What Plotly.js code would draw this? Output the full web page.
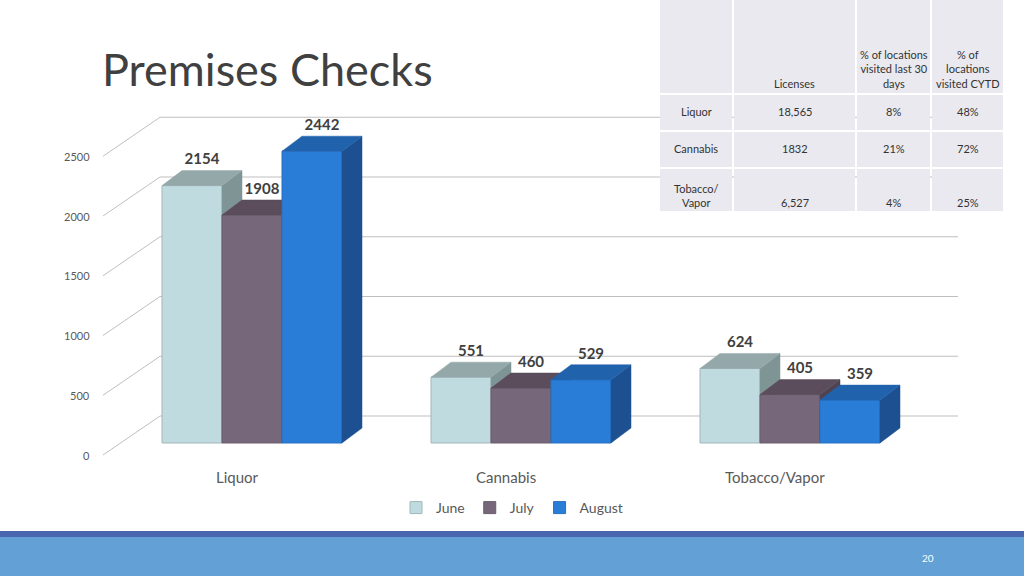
<!DOCTYPE html>
<html>
<head>
<meta charset="utf-8">
<script src="https://cdn.plot.ly/plotly-3.0.1.min.js"></script>
<style>
  body { margin: 0; background: #fff; }
  #chart { width: 1024px; height: 576px; }
</style>
</head>
<body>
<div id="chart"></div>
<script>
// chart data
const categories = ['Liquor', 'Cannabis', 'Tobacco/Vapor'];
const months = ['June', 'July', 'August'];
const june = [2154, 551, 624];
const july = [1908, 460, 405];
const august = [2442, 529, 359];
const yTicks = [0, 500, 1000, 1500, 2000, 2500];

// table data
const tableHeader = ['', 'Licenses', '% of locations<br>visited last 30<br>days', '% of<br>locations<br>visited CYTD'];
const tableRows = ['Liquor', 'Cannabis', 'Tobacco/<br>Vapor'];
const licenses = ['18,565', '1832', '6,527'];
const visited30 = ['8%', '21%', '4%'];
const visitedCYTD = ['48%', '72%', '25%'];

const FONT = 'Lato, "Liberation Sans", sans-serif';
const W = 1024, H = 576;

// pixel geometry of the 3d frame
const CX0 = 252, CSTEP = 269;   // x pixel of first category centre, spacing
const Y0 = 443, KY = 0.1195;    // floor pixel row, pixels per unit
const xv = px => (px - CX0) / CSTEP;
const yv = py => (Y0 - py) / KY;
const px2paperX = px => px / W;
const py2paperY = py => 1 - py / H;

const barW = 60 / CSTEP;
const depthX = 20 / CSTEP;
const depthY = 15 / KY;
const backY = 27 / KY;     // back wall raised above bar front
const frontY = 12 / KY;    // tick diagonals start below bar front

const series = [june, july, august];
const colors = [
  {front: '#bfdbdf', top: '#94a8aa', side: '#7f9595', edge: '#a3b7ba'},
  {front: '#76687a', top: '#5b4d5b', side: '#4f4251', edge: '#6a5d6e'},
  {front: '#2a7dd6', top: '#2162ad', side: '#1d5090', edge: '#2570c2'}
];

const xs = categories.map((c, i) => i);
const yRange = [yv(470), yv(100)];
let traces = [];
let layout = {
  width: W, height: H,
  margin: {l: 0, r: 0, t: 0, b: 0},
  paper_bgcolor: '#ffffff',
  plot_bgcolor: 'rgba(0,0,0,0)',
  font: {family: FONT, color: '#595959'},
  barmode: 'overlay',
  showlegend: true,
  legend: {
    orientation: 'h', x: 0.5, xanchor: 'center',
    y: py2paperY(508), yanchor: 'middle',
    font: {size: 14, color: '#595959', family: FONT},
    itemwidth: 30, tracegroupgap: 0
  },
  xaxis: {
    domain: [px2paperX(60), px2paperX(1000)],
    range: [xv(60), xv(1000)],
    showgrid: false, zeroline: false, showticklabels: false, ticks: ''
  },
  yaxis: {
    domain: [py2paperY(470), py2paperY(100)],
    range: yRange,
    showgrid: false, zeroline: false, showticklabels: false, ticks: ''
  },
  shapes: [],
  annotations: []
};

series.forEach((vals, s) => {
  const off = -1.5 * barW + s * barW;
  const barAxis = 'y' + (s === 0 ? '' : (2 * s + 1));
  const faceAxis = 'y' + (2 * s + 2);

  traces.push({
    type: 'bar', name: months[s],
    x: xs, y: vals,
    width: barW, offset: off,
    marker: {color: colors[s].front, line: {color: colors[s].edge, width: 1}},
    yaxis: barAxis, hoverinfo: 'skip'
  });

  let tx = [], ty = [], sx = [], sy = [];
  vals.forEach((v, i) => {
    const x0 = i + off, x1 = x0 + barW;
    tx.push(x0, x1, x1 + depthX, x0 + depthX, x0, null);
    ty.push(v, v, v + depthY, v + depthY, v, null);
    sx.push(x1, x1 + depthX, x1 + depthX, x1, x1, null);
    sy.push(0, depthY, v + depthY, v, 0, null);
  });
  traces.push({
    type: 'scatter', mode: 'lines', x: sx, y: sy, fill: 'toself',
    fillcolor: colors[s].side, line: {color: colors[s].side, width: 0.5},
    yaxis: faceAxis, showlegend: false, hoverinfo: 'skip'
  });
  traces.push({
    type: 'scatter', mode: 'lines', x: tx, y: ty, fill: 'toself',
    fillcolor: colors[s].top, line: {color: colors[s].top, width: 0.5},
    yaxis: faceAxis, showlegend: false, hoverinfo: 'skip'
  });
});

// value labels on top of everything
let lx = [], ly = [], lt = [];
series.forEach((vals, s) => {
  const off = -1.5 * barW + s * barW;
  vals.forEach((v, i) => {
    lx.push(i + off + barW / 2 + depthX / 2);
    ly.push(v + depthY + 10 / KY);
    lt.push('<b>' + v + '</b>');
  });
});
traces.push({
  type: 'scatter', mode: 'text', x: lx, y: ly, text: lt,
  textposition: 'middle center',
  textfont: {size: 15, color: '#404040', family: FONT},
  yaxis: 'y7', showlegend: false, hoverinfo: 'skip'
});

for (let a = 2; a <= 7; a++) {
  layout['yaxis' + a] = {
    overlaying: 'y', range: yRange, visible: false,
    showgrid: false, zeroline: false
  };
}

// back wall gridlines, diagonals and tick labels
yTicks.forEach(t => {
  layout.shapes.push({
    type: 'line', xref: 'x', yref: 'y', layer: 'below',
    x0: xv(160), x1: xv(958), y0: t + backY, y1: t + backY,
    line: {color: '#bfbfbf', width: 1}
  });
  layout.shapes.push({
    type: 'line', xref: 'x', yref: 'y', layer: 'below',
    x0: xv(103), x1: xv(160), y0: t - frontY, y1: t + backY,
    line: {color: '#bfbfbf', width: 1}
  });
  layout.annotations.push({
    xref: 'paper', yref: 'y', x: px2paperX(92), xanchor: 'right',
    y: t - frontY, yanchor: 'middle', text: String(t), showarrow: false,
    font: {size: 11, color: '#595959', family: FONT}
  });
});

// category labels sit on the front edge of the floor
categories.forEach((c, i) => {
  layout.annotations.push({
    xref: 'x', yref: 'paper', x: i - 15 / CSTEP, xanchor: 'center',
    y: py2paperY(477), yanchor: 'middle', text: c, showarrow: false,
    font: {size: 15, color: '#595959', family: FONT}
  });
});

// slide title
layout.annotations.push({
  xref: 'paper', yref: 'paper', x: px2paperX(100), xanchor: 'left',
  y: py2paperY(69), yanchor: 'middle', text: 'Premises Checks', showarrow: false,
  font: {size: 45, color: '#404040', family: FONT}
});

// footer band
layout.shapes.push({
  type: 'rect', xref: 'paper', yref: 'paper', layer: 'above',
  x0: 0, x1: 1, y0: 0, y1: py2paperY(537),
  fillcolor: '#62a0d5', line: {width: 0}
});
layout.shapes.push({
  type: 'rect', xref: 'paper', yref: 'paper', layer: 'above',
  x0: 0, x1: 1, y0: py2paperY(537), y1: py2paperY(531),
  fillcolor: '#4a66ae', line: {width: 0}
});
layout.annotations.push({
  xref: 'paper', yref: 'paper', x: px2paperX(928), xanchor: 'center',
  y: py2paperY(558), yanchor: 'middle', text: '20', showarrow: false,
  font: {size: 10, color: '#ffffff', family: FONT}
});

// licence table, drawn as cells on the paper (covers the gridlines behind it)
const colEdges = [[660, 732], [734, 855], [857, 930], [932, 1003]];
const rowEdges = [[0, 93], [95, 130], [132, 167], [169, 211]];
const rowTextBottom = [92, 120, 157, 211];
const tableCols = [tableRows, licenses, visited30, visitedCYTD];
rowEdges.forEach((r, ri) => {
  colEdges.forEach((c, ci) => {
    layout.shapes.push({
      type: 'rect', xref: 'paper', yref: 'paper', layer: 'above',
      x0: px2paperX(c[0]), x1: px2paperX(c[1]),
      y0: py2paperY(r[1]), y1: py2paperY(r[0]),
      fillcolor: '#e9e9ef', line: {width: 0}
    });
    const txt = ri === 0 ? tableHeader[ci] : tableCols[ci][ri - 1];
    if (!txt) return;
    layout.annotations.push({
      xref: 'paper', yref: 'paper',
      x: px2paperX((c[0] + c[1]) / 2), xanchor: 'center',
      y: py2paperY(rowTextBottom[ri]), yanchor: 'bottom',
      text: txt, align: 'center', showarrow: false,
      font: {size: 11, color: '#333333', family: FONT}
    });
  });
});

Plotly.newPlot('chart', traces, layout, {displayModeBar: false, staticPlot: true});
</script>
</body>
</html>
